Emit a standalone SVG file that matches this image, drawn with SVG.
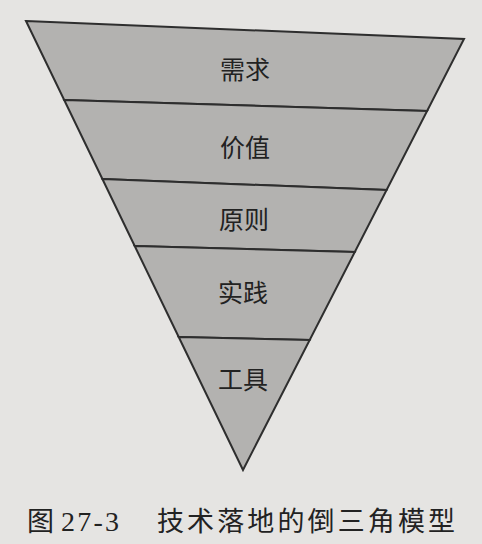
<svg xmlns="http://www.w3.org/2000/svg" width="482" height="544" viewBox="0 0 482 544">
<style>
.layer{fill:#b3b2b0;stroke:#2e2e2e;stroke-width:2;stroke-linejoin:miter}
.lbl{font-family:"Liberation Serif","Noto Sans CJK SC",serif;font-size:25px;fill:#222;text-anchor:middle}
.cap{font-family:"Liberation Serif","Noto Sans CJK SC",serif;font-size:27px;fill:#222}
</style>
<rect width="482" height="544" fill="#e5e4e2"/>
<g id="layer-xuqiu">
<polygon class="layer" points="26,21 464,39 427.1,111 64.2,100"/>
<text class="lbl" x="245" y="79">需求</text>
</g>
<g id="layer-jiazhi">
<polygon class="layer" points="64.2,100 427.1,111 386.6,190 102.4,179"/>
<text class="lbl" x="245" y="157">价值</text>
</g>
<g id="layer-yuanze">
<polygon class="layer" points="102.4,179 386.6,190 354.8,252 134.7,246"/>
<text class="lbl" x="244" y="229">原则</text>
</g>
<g id="layer-shijian">
<polygon class="layer" points="134.7,246 354.8,252 309.7,340 178.7,337"/>
<text class="lbl" x="243" y="302">实践</text>
</g>
<g id="layer-gongju">
<polygon class="layer" points="178.7,337 309.7,340 243,470"/>
<text class="lbl" x="243" y="389">工具</text>
</g>
<g id="connectors"></g>
<g id="caption">
<text class="cap" x="27" y="531">图</text>
<text class="cap" x="61" y="531" style="font-size:28px" textLength="58" lengthAdjust="spacing">27-3</text>
<text class="cap" x="157" y="531" textLength="298" lengthAdjust="spacing">技术落地的倒三角模型</text>
</g>
</svg>
